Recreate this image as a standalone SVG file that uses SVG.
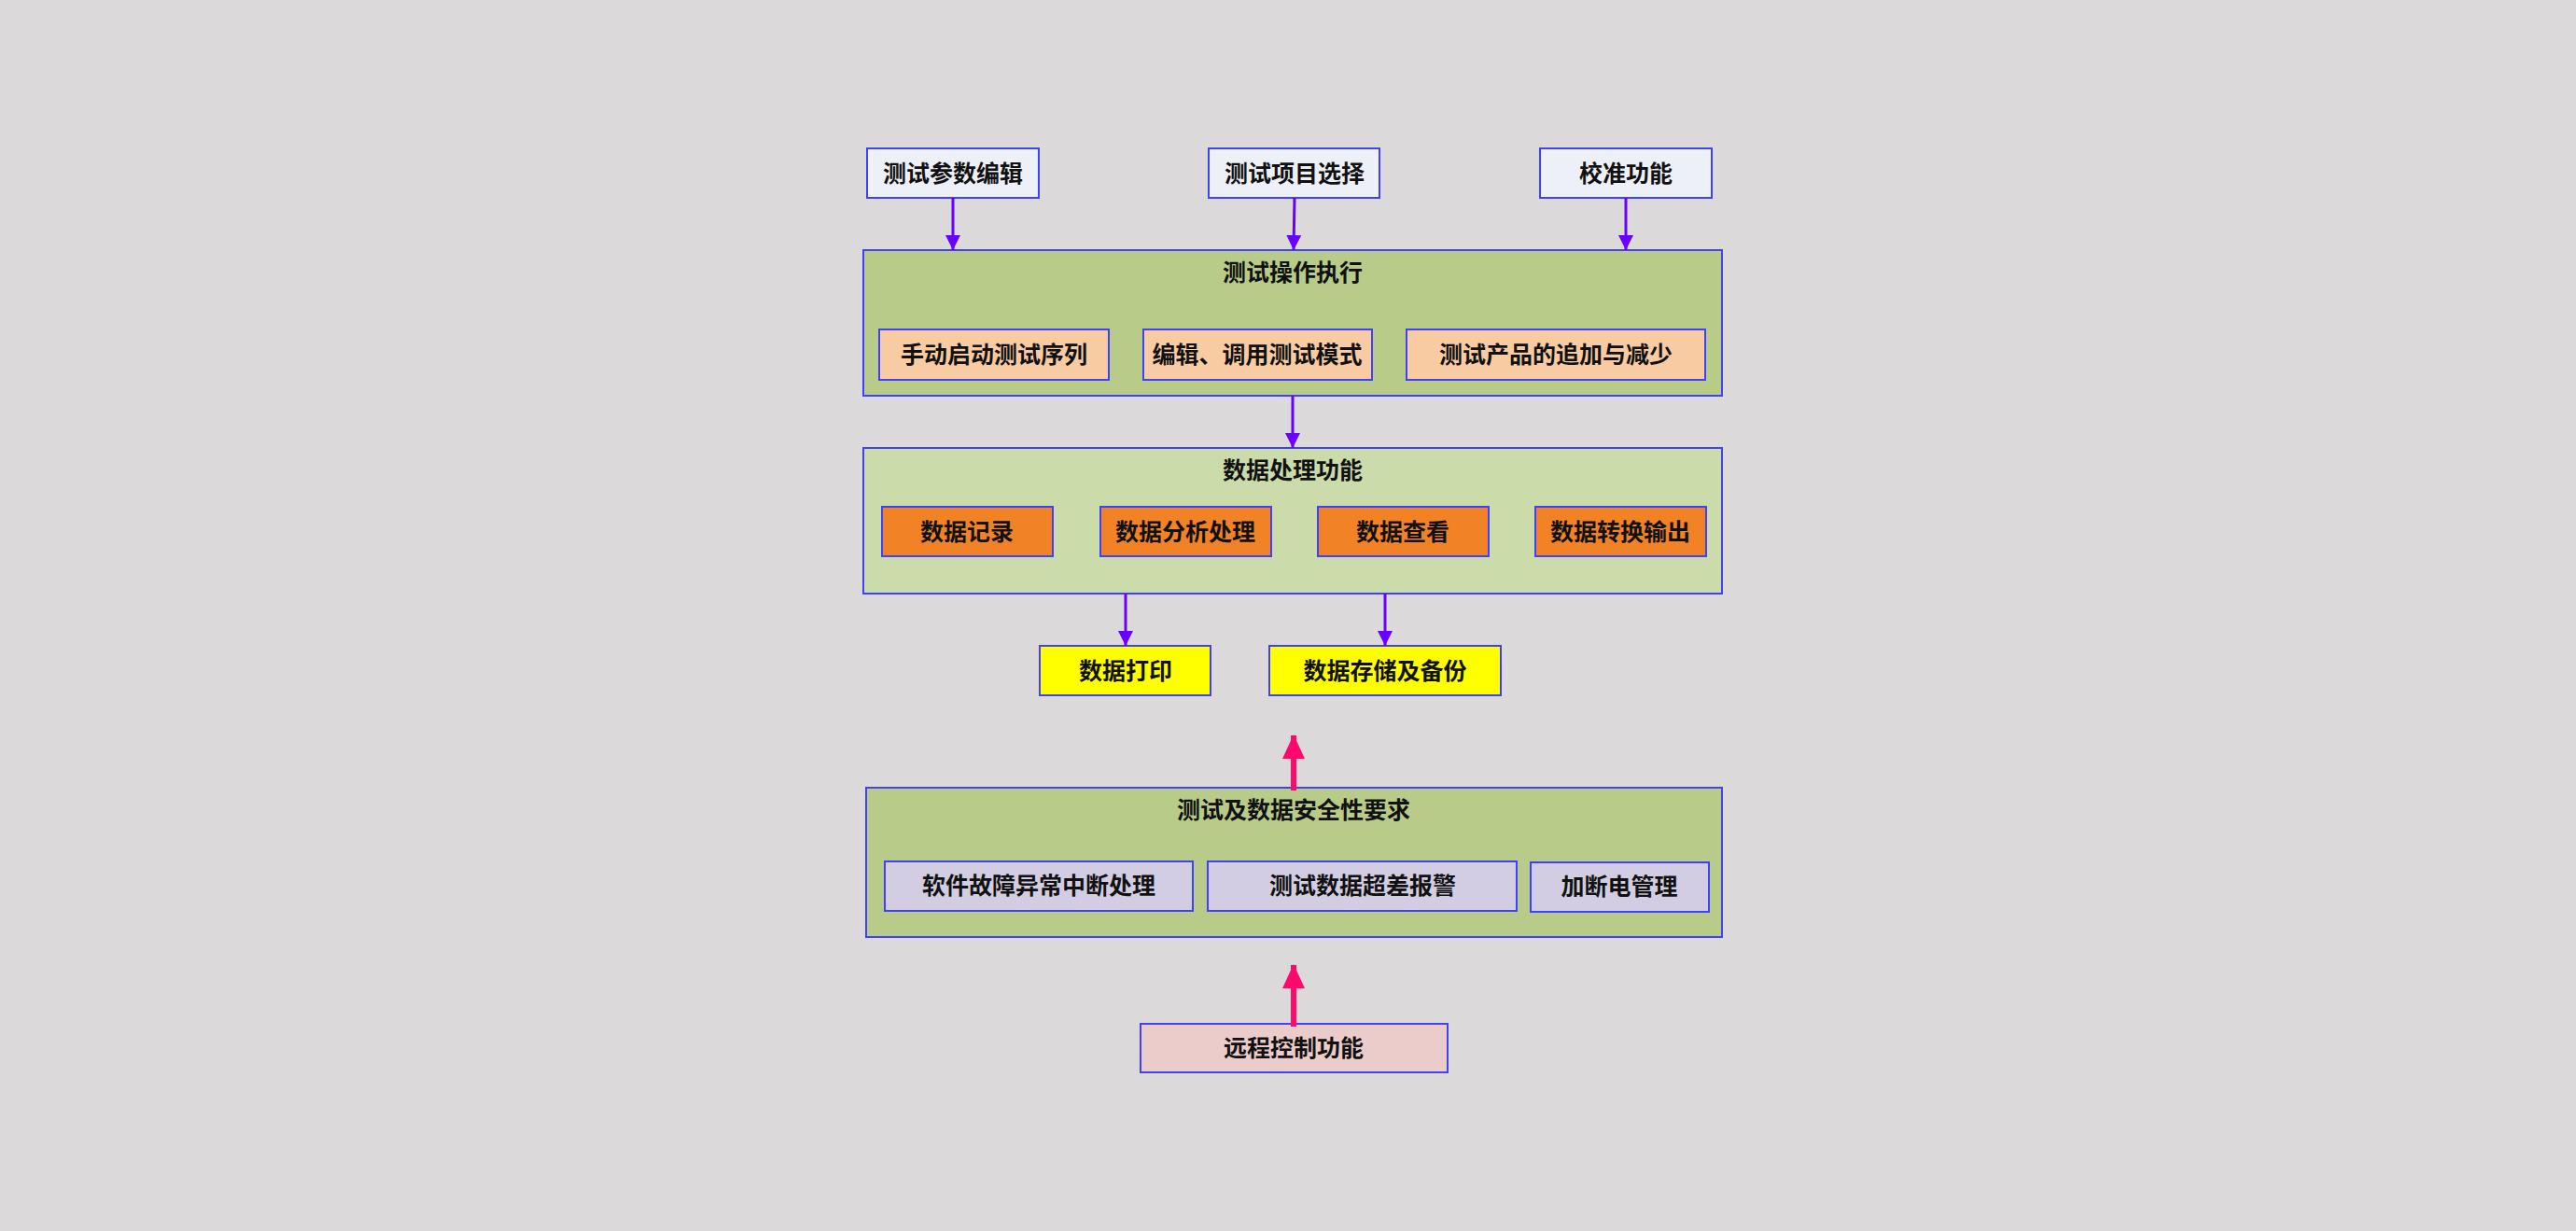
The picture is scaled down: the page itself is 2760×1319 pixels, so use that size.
<svg xmlns="http://www.w3.org/2000/svg" width="2760" height="1319" viewBox="0 0 2760 1319">
<defs>
<style>
.b{stroke:#4040ff;stroke-width:2}
.t{font-family:"Noto Sans CJK SC","Noto Sans CJK TC",sans-serif;font-size:25px;font-weight:700;fill:#111;text-anchor:middle;dominant-baseline:central}
.top{fill:#eef0f7}
.g1{fill:#b8cb88}
.g2{fill:#cbdcaa}
.peach{fill:#f9cba2}
.orange{fill:#f28226}
.yellow{fill:#ffff00}
.lav{fill:#d3cde3}
.pink{fill:#ecccca}
.pa{stroke:#6a00ff;stroke-width:3;fill:none}
.ra{stroke:#ff0a6c;stroke-width:6;fill:none}
</style>
<marker id="ah" viewBox="0 0 16 16" refX="16" refY="8" markerWidth="16" markerHeight="16" markerUnits="userSpaceOnUse" orient="auto">
<path d="M0,0 L16,8 L0,16 z" fill="#6a00ff"/>
</marker>
<marker id="rh" viewBox="0 0 26 24" refX="25" refY="12" markerWidth="26" markerHeight="24" markerUnits="userSpaceOnUse" orient="auto">
<path d="M0,0 L26,12 L0,24 z" fill="#ff0a6c"/>
</marker>
</defs>
<rect width="2760" height="1319" fill="#dbd9da"/>

<g id="n-exec">
<rect class="b g1" x="925" y="268" width="920" height="156"/>
<text class="t" x="1385" y="290">测试操作执行</text>
</g>
<g id="n-proc">
<rect class="b g2" x="925" y="480" width="920" height="156"/>
<text class="t" x="1385" y="502">数据处理功能</text>
</g>
<g id="n-safe">
<rect class="b g1" x="928" y="844" width="917" height="160"/>
<text class="t" x="1386" y="866">测试及数据安全性要求</text>
</g>

<g id="n-param"><rect class="b top" x="929" y="159" width="184" height="53"/><text class="t" x="1021" y="184">测试参数编辑</text></g>
<g id="n-item"><rect class="b top" x="1295" y="159" width="183" height="53"/><text class="t" x="1387" y="184">测试项目选择</text></g>
<g id="n-cal"><rect class="b top" x="1650" y="159" width="184" height="53"/><text class="t" x="1742" y="184">校准功能</text></g>

<g id="n-manual"><rect class="b peach" x="942" y="353" width="246" height="54"/><text class="t" x="1065" y="378">手动启动测试序列</text></g>
<g id="n-mode"><rect class="b peach" x="1225" y="353" width="245" height="54"/><text class="t" x="1347" y="378">编辑、调用测试模式</text></g>
<g id="n-prod"><rect class="b peach" x="1507" y="353" width="320" height="54"/><text class="t" x="1667" y="378">测试产品的追加与减少</text></g>

<g id="n-rec"><rect class="b orange" x="945" y="543" width="183" height="53"/><text class="t" x="1036" y="568">数据记录</text></g>
<g id="n-ana"><rect class="b orange" x="1179" y="543" width="183" height="53"/><text class="t" x="1270" y="568">数据分析处理</text></g>
<g id="n-view"><rect class="b orange" x="1412" y="543" width="183" height="53"/><text class="t" x="1503" y="568">数据查看</text></g>
<g id="n-conv"><rect class="b orange" x="1645" y="543" width="183" height="53"/><text class="t" x="1736" y="568">数据转换输出</text></g>

<g id="n-print"><rect class="b yellow" x="1114" y="692" width="183" height="53"/><text class="t" x="1206" y="717">数据打印</text></g>
<g id="n-store"><rect class="b yellow" x="1360" y="692" width="248" height="53"/><text class="t" x="1484" y="717">数据存储及备份</text></g>

<g id="n-fault"><rect class="b lav" x="948" y="923" width="330" height="53"/><text class="t" x="1113" y="947">软件故障异常中断处理</text></g>
<g id="n-alarm"><rect class="b lav" x="1294" y="923" width="331" height="53"/><text class="t" x="1460" y="947">测试数据超差报警</text></g>
<g id="n-power"><rect class="b lav" x="1640" y="924" width="191" height="53"/><text class="t" x="1735" y="948">加断电管理</text></g>

<g id="n-remote"><rect class="b pink" x="1222" y="1097" width="329" height="52"/><text class="t" x="1386" y="1121">远程控制功能</text></g>

<g id="connectors">
<line class="pa" x1="1021" y1="212" x2="1021" y2="268" marker-end="url(#ah)"/>
<line class="pa" x1="1387" y1="212" x2="1386" y2="268" marker-end="url(#ah)"/>
<line class="pa" x1="1742" y1="212" x2="1742" y2="268" marker-end="url(#ah)"/>
<line class="pa" x1="1385" y1="424" x2="1385" y2="480" marker-end="url(#ah)"/>
<line class="pa" x1="1206" y1="636" x2="1206" y2="692" marker-end="url(#ah)"/>
<line class="pa" x1="1484" y1="636" x2="1484" y2="692" marker-end="url(#ah)"/>
<line class="ra" x1="1386" y1="847" x2="1386" y2="788" marker-end="url(#rh)"/>
<line class="ra" x1="1386" y1="1100" x2="1386" y2="1034" marker-end="url(#rh)"/>
</g>
</svg>
